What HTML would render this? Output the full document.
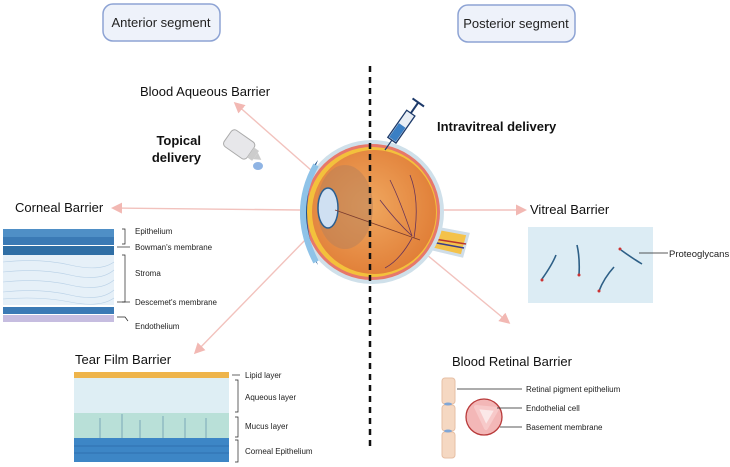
<!DOCTYPE html>
<html><head><meta charset="utf-8"><style>
html,body{margin:0;padding:0;background:#fff;}
svg{display:block;font-family:"Liberation Sans",sans-serif;}
</style></head><body>
<svg width="730" height="467" viewBox="0 0 730 467" xmlns="http://www.w3.org/2000/svg">
<defs>
<marker id="ah" markerWidth="11" markerHeight="11" refX="8" refY="5.5" orient="auto" markerUnits="userSpaceOnUse">
<path d="M0,0 L11,5.5 L0,11 z" fill="#f2b8b3"/></marker>
<radialGradient id="eg" cx="0.45" cy="0.45" r="0.6"><stop offset="0" stop-color="#f0a860"/><stop offset="1" stop-color="#e07d36"/></radialGradient>
</defs>
<!-- header boxes -->
<rect x="103" y="4" width="117" height="37" rx="10" fill="#eef2fa" stroke="#8da3d4" stroke-width="1.5"/>
<text x="161" y="27" font-size="13" text-anchor="middle" fill="#222">Anterior segment</text>
<rect x="458" y="5" width="117" height="37" rx="10" fill="#eef2fa" stroke="#8da3d4" stroke-width="1.5"/>
<text x="516" y="28" font-size="13" text-anchor="middle" fill="#222">Posterior segment</text>

<!-- arrows -->
<g stroke="#f2c2bd" stroke-width="1.4" fill="none">
<line x1="345" y1="200" x2="236" y2="104" marker-end="url(#ah)"/>
<line x1="300" y1="210" x2="114" y2="208" marker-end="url(#ah)"/>
<line x1="310" y1="235" x2="196" y2="352" marker-end="url(#ah)"/>
<line x1="400" y1="210" x2="524" y2="210" marker-end="url(#ah)"/>
<line x1="415" y1="245" x2="508" y2="322" marker-end="url(#ah)"/>
</g>

<!-- optic nerve -->
<path d="M425,226 L468,234 L462,256 L420,246 z" fill="#f4c24a" stroke="#cfdde8" stroke-width="3"/>
<line x1="415" y1="236" x2="466" y2="244" stroke="#b8342f" stroke-width="1.5"/>
<line x1="415" y1="239" x2="464" y2="248" stroke="#3a3d8a" stroke-width="1.5"/>
<!-- eye -->
<circle cx="372" cy="212" r="72" fill="#cfe0ea"/>
<circle cx="372" cy="212" r="68" fill="#e7786a"/>
<circle cx="372" cy="212" r="65" fill="#f3c13c"/>
<circle cx="374" cy="212" r="62" fill="url(#eg)"/>
<ellipse cx="345" cy="207" rx="28" ry="42" fill="#b9825a" opacity="0.55"/>
<path d="M318,160 Q296,212 318,265 Q300,240 302,212 Q300,182 318,160z" fill="#1d4f8a"/>
<path d="M316,165 Q290,212 316,262" stroke="#8fc3e8" stroke-width="6" fill="none"/>
<ellipse cx="328" cy="208" rx="10" ry="20" fill="#cfe0f2" stroke="#2c5f90" stroke-width="1.5"/>
<line x1="335" y1="210" x2="420" y2="240" stroke="#7a3b2e" stroke-width="0.8"/>
<g stroke="#6a3558" stroke-width="0.8" fill="none">
<path d="M412,236 Q400,200 390,180"/><path d="M412,236 Q395,220 380,200"/>
<path d="M412,238 Q400,260 385,268"/><path d="M414,238 Q420,200 410,175"/>
</g>
<!-- dashed line -->
<line x1="370" y1="66" x2="370" y2="446" stroke="#111" stroke-width="2.5" stroke-dasharray="6,5"/>

<!-- syringe -->
<g transform="translate(385,150) rotate(35)">
<line x1="0" y1="0" x2="0" y2="-12" stroke="#1d3a6a" stroke-width="1.2"/>
<rect x="-5" y="-45" width="10" height="33" fill="#e8eef5" stroke="#1d3a6a" stroke-width="1.3"/>
<rect x="-4" y="-30" width="8" height="17" fill="#3a7fc4"/>
<line x1="0" y1="-45" x2="0" y2="-58" stroke="#1d3a6a" stroke-width="2"/>
<line x1="-7" y1="-58" x2="7" y2="-58" stroke="#1d3a6a" stroke-width="2"/>
</g>
<text x="437" y="131" font-size="13" font-weight="bold" fill="#111">Intravitreal delivery</text>

<!-- eye drop bottle -->
<g transform="translate(240,145) rotate(-55)">
<rect x="-10" y="-15" width="20" height="28" rx="4" fill="#e7e7ea" stroke="#aaa"/>
<rect x="-6" y="13" width="12" height="6" fill="#ccc"/>
<path d="M-4,19 L0,26 L4,19z" fill="#ccc"/>
</g>
<ellipse cx="258" cy="166" rx="5" ry="4" fill="#8fb4e4"/>
<text x="201" y="145" font-size="13" font-weight="bold" text-anchor="end" fill="#111">Topical</text>
<text x="201" y="162" font-size="13" font-weight="bold" text-anchor="end" fill="#111">delivery</text>

<text x="140" y="96" font-size="13" fill="#111">Blood Aqueous Barrier</text>
<text x="15" y="212" font-size="13" fill="#111">Corneal Barrier</text>
<text x="530" y="214" font-size="13" fill="#111">Vitreal Barrier</text>
<text x="75" y="364" font-size="13" fill="#111">Tear Film Barrier</text>
<text x="452" y="366" font-size="13" fill="#111">Blood Retinal Barrier</text>

<!-- corneal figure -->
<rect x="3" y="229" width="111" height="8" fill="#4f8fc6"/>
<rect x="3" y="237" width="111" height="8" fill="#3b7ab5"/>
<rect x="3" y="246" width="111" height="9" fill="#2f6ea5"/>
<rect x="3" y="255" width="111" height="50" fill="#e6f0f8"/>
<g stroke="#b8d0e6" stroke-width="0.6" fill="none">
<path d="M3,262 Q40,258 70,265 T114,262"/><path d="M3,272 Q40,268 70,275 T114,270"/><path d="M3,282 Q40,278 70,285 T114,280"/><path d="M3,292 Q40,288 70,295 T114,290"/><path d="M3,299 Q40,296 70,302 T114,298"/>
</g>
<rect x="3" y="307" width="111" height="7" fill="#3b7ab5"/>
<rect x="3" y="315" width="111" height="7" fill="#c6bde0"/>
<g stroke="#222" stroke-width="0.7" fill="none">
<path d="M122,229 h3 v15 h-3"/><path d="M122,255 h3 v47 h-3"/>
<line x1="117" y1="247" x2="130" y2="247"/><line x1="117" y1="302" x2="130" y2="302"/>
<path d="M117,317 h8 l3,4"/>
</g>
<g font-size="8" fill="#222">
<text x="135" y="234">Epithelium</text><text x="135" y="250">Bowman's membrane</text>
<text x="135" y="276">Stroma</text><text x="135" y="305">Descemet's membrane</text>
<text x="135" y="329">Endothelium</text>
</g>

<!-- tear film -->
<rect x="74" y="372" width="155" height="6" fill="#eeb44a"/>
<rect x="74" y="378" width="155" height="35" fill="#deeef4"/>
<rect x="74" y="413" width="155" height="25" fill="#b9e0d8"/>
<rect x="74" y="438" width="155" height="24" fill="#3d86c6"/>
<g stroke="#2a68a8" stroke-width="0.8"><line x1="74" y1="446" x2="229" y2="446"/><line x1="74" y1="453" x2="229" y2="453"/></g>
<g stroke="#7aa7b8" stroke-width="1"><line x1="100" y1="418" x2="100" y2="438"/><line x1="122" y1="414" x2="122" y2="438"/><line x1="140" y1="420" x2="140" y2="438"/><line x1="163" y1="416" x2="163" y2="438"/><line x1="185" y1="418" x2="185" y2="438"/><line x1="206" y1="418" x2="206" y2="438"/></g>
<g stroke="#222" stroke-width="0.7" fill="none">
<line x1="232" y1="375" x2="240" y2="375"/>
<path d="M235,380 h3 v32 h-3"/><path d="M235,417 h3 v20 h-3"/><path d="M235,440 h3 v22 h-3"/>
</g>
<g font-size="8" fill="#222">
<text x="245" y="378">Lipid layer</text><text x="245" y="400">Aqueous layer</text>
<text x="245" y="429">Mucus layer</text><text x="245" y="454">Corneal Epithelium</text>
</g>

<!-- vitreal -->
<rect x="528" y="227" width="125" height="76" fill="#dcecf4"/>
<g stroke="#2d5f86" stroke-width="1.6" fill="none">
<path d="M542,279 Q552,265 556,255"/><path d="M577,245 Q580,258 579,275"/>
<path d="M614,267 Q604,278 599,291"/>
</g>
<g fill="#c33"><circle cx="542" cy="280" r="1.5"/><circle cx="579" cy="275" r="1.5"/><circle cx="620" cy="249" r="1.5"/><circle cx="599" cy="291" r="1.5"/></g>
<path d="M621,250 Q632,258 642,264" stroke="#2d5f86" stroke-width="1.6" fill="none"/>
<line x1="639" y1="253" x2="668" y2="253" stroke="#222" stroke-width="0.7"/>
<text x="669" y="257" font-size="9.5" fill="#222">Proteoglycans</text>

<!-- blood retinal -->
<rect x="442" y="378" width="13" height="26" rx="3" fill="#f5d8c2" stroke="#e6bfa4"/>
<rect x="442" y="405" width="13" height="26" rx="3" fill="#f5d8c2" stroke="#e6bfa4"/>
<rect x="442" y="432" width="13" height="26" rx="3" fill="#f5d8c2" stroke="#e6bfa4"/>
<g fill="#7fa6d6"><ellipse cx="448" cy="404" rx="4" ry="1.5"/><ellipse cx="448" cy="431" rx="4" ry="1.5"/></g>
<circle cx="484" cy="417" r="18" fill="#f3b7b7" stroke="#b83a3a" stroke-width="1.3"/>
<path d="M476,407 L497,409 L486,428 z" fill="#fbe8e8" stroke="#f7c9c9" stroke-width="4" stroke-linejoin="round"/>
<g stroke="#222" stroke-width="0.7">
<line x1="457" y1="389" x2="522" y2="389"/><line x1="497" y1="408" x2="522" y2="408"/><line x1="500" y1="427" x2="522" y2="427"/>
</g>
<g font-size="8" fill="#222">
<text x="526" y="392">Retinal pigment epithelium</text><text x="526" y="411">Endothelial cell</text><text x="526" y="430">Basement membrane</text>
</g>
</svg>
</body></html>
